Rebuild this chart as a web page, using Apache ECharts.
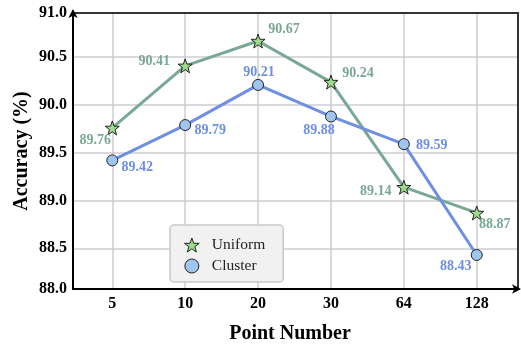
<!DOCTYPE html>
<html>
<head>
<meta charset="utf-8">
<script src="https://cdn.jsdelivr.net/npm/echarts@6/dist/echarts.min.js"></script>
<style>html,body{margin:0;padding:0;background:#fff;}#c{width:521px;height:349px;}</style>
</head>
<body>
<div id="c"></div>
<script>
// ---- data ----
const categories = ['5', '10', '20', '30', '64', '128'];
const uniform = [89.76, 90.41, 90.67, 90.24, 89.14, 88.87];
const cluster = [89.42, 89.79, 90.21, 89.88, 89.59, 88.43];
const yTickValues = [88.074, 88.5, 89.0, 89.5, 90.0, 90.5, 90.963];
const yTickLabels = ['88.0', '88.5', '89.0', '89.5', '90.0', '90.5', '91.0'];
const yGridValues = [88.5, 89.0, 89.5, 90.0, 90.5];

// ---- label placement (style) ----
const uniformLabelOffsets = [[-17, 12], [-31, -4], [26, -12], [27, -9], [-28, 4], [18, 11]];
const clusterLabelOffsets = [[25, 7], [25, 5], [1, -13], [-12, 14], [28, 1], [-21, 11]];

const FONT = 'Liberation Serif';
const GREEN = '#79a994';
const BLUE = '#6e8fe2';
const STAR = 'path://M50,2 L61.76,35.82 L97.55,36.55 L69.02,58.18 L79.39,92.45 L50,72 L20.61,92.45 L30.98,58.18 L2.45,36.55 L38.24,35.82 Z';

function buildData(vals, offs) {
  return vals.map((v, i) => ({ value: [i, v], label: { offset: offs[i] } }));
}
function yLabel(v) {
  let best = 0, bd = Infinity;
  yTickValues.forEach((t, i) => { const d = Math.abs(t - v); if (d < bd) { bd = d; best = i; } });
  return yTickLabels[best];
}

const chart = echarts.init(document.getElementById('c'));
const xMin = -0.539, xMax = 5.566;
chart.setOption({
  animation: false,
  grid: { left: 73, right: 3, top: 13, bottom: 55.5, containLabel: false },
  xAxis: [{
    type: 'value', min: xMin, max: xMax,
    name: 'Point Number', nameLocation: 'middle', nameGap: 35,
    nameTextStyle: { fontFamily: FONT, fontWeight: 'bold', fontSize: 20, color: '#000', padding: [0, 11, 0, 0] },
    axisLine: { show: true, onZero: false, lineStyle: { color: '#000', width: 2 }, symbol: ['none', 'arrow'], symbolSize: [7, 9], symbolOffset: [0, 3] },
    axisTick: { show: false, customValues: [0, 1, 2, 3, 4, 5] },
    axisLabel: { customValues: [0, 1, 2, 3, 4, 5], formatter: v => categories[Math.round(v)], fontFamily: FONT, fontWeight: 'bold', fontSize: 16, color: '#000', margin: 7 },
    splitLine: { show: true, lineStyle: { color: '#cdcdd3', width: 1.5 } }
  }, {
    type: 'value', min: xMin, max: xMax, position: 'top',
    axisLine: { show: true, onZero: false, lineStyle: { color: '#333', width: 2 } },
    axisTick: { show: false }, axisLabel: { show: false }, splitLine: { show: false }
  }],
  yAxis: [{
    type: 'value', min: yTickValues[0], max: yTickValues[yTickValues.length - 1],
    name: 'Accuracy (%)', nameLocation: 'middle', nameGap: 41, nameRotate: 90, nameMoveOverlap: false,
    nameTextStyle: { fontFamily: FONT, fontWeight: 'bold', fontSize: 20, color: '#000' },
    axisLine: { show: true, onZero: false, lineStyle: { color: '#000', width: 2 }, symbol: ['none', 'arrow'], symbolSize: [7, 9], symbolOffset: [0, 4] },
    axisTick: { show: false, customValues: yGridValues },
    axisLabel: { customValues: yTickValues, formatter: yLabel, fontFamily: FONT, fontWeight: 'bold', fontSize: 16, color: '#000', margin: 6 },
    splitLine: { show: true, lineStyle: { color: '#cdcdd3', width: 1.5 } }
  }, {
    type: 'value', min: yTickValues[0], max: yTickValues[yTickValues.length - 1], position: 'right',
    axisLine: { show: true, onZero: false, lineStyle: { color: '#333', width: 2 } },
    axisTick: { show: false }, axisLabel: { show: false }, splitLine: { show: false }
  }],
  legend: {
    orient: 'vertical', left: 170, top: 225,
    backgroundColor: '#f1f1f1', borderColor: '#c9c9c9', borderWidth: 1.5, borderRadius: 4,
    padding: [12, 18, 8, 14],
    itemWidth: 30, itemHeight: 14, itemGap: 5,
    textStyle: { fontFamily: FONT, fontSize: 15.5, color: '#222' },
    data: [
      { name: 'Uniform', icon: STAR, itemStyle: { color: '#9ddc8a', borderColor: '#222', borderWidth: 1 } },
      { name: 'Cluster', icon: 'circle', itemStyle: { color: '#9fc6ef', borderColor: '#222', borderWidth: 1 } }
    ]
  },
  series: [{
    name: 'Uniform', type: 'line',
    data: buildData(uniform, uniformLabelOffsets),
    symbol: STAR, symbolSize: 14,
    lineStyle: { color: GREEN, width: 3 },
    itemStyle: { color: '#9ddc8a', borderColor: '#222', borderWidth: 1 },
    label: { show: true, position: 'inside', formatter: p => p.value[1].toFixed(2), fontFamily: FONT, fontWeight: 'bold', fontSize: 14, color: GREEN },
    z: 3
  }, {
    name: 'Cluster', type: 'line',
    data: buildData(cluster, clusterLabelOffsets),
    symbol: 'circle', symbolSize: 11,
    lineStyle: { color: BLUE, width: 3 },
    itemStyle: { color: '#9fc6ef', borderColor: '#222', borderWidth: 1 },
    label: { show: true, position: 'inside', formatter: p => p.value[1].toFixed(2), fontFamily: FONT, fontWeight: 'bold', fontSize: 14, color: BLUE },
    z: 4
  }]
});
</script>
</body>
</html>
